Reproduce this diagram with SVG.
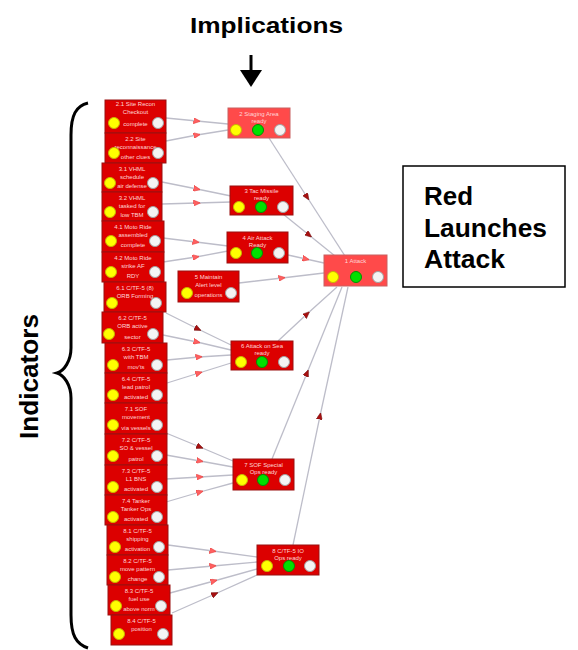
<svg xmlns="http://www.w3.org/2000/svg" width="578" height="650" viewBox="0 0 578 650">
<style>
.bg{fill:#ffffff}
.title{font-family:"Liberation Sans",Arial,sans-serif;font-weight:bold;fill:#000}
.nd{fill:#dc0000;stroke:#9a1010;stroke-width:1}
.ndl{fill:#ff4a4a;stroke:#c86060;stroke-width:1}
.t{font-family:"Liberation Sans",Arial,sans-serif;font-size:6px;fill:#ffd6d6;text-anchor:middle}
.y{fill:#ffff00;stroke:#c8b400;stroke-width:1}
.g{fill:#00e000;stroke:#009000;stroke-width:1}
.w{fill:#f4f4f4;stroke:#a0a0a0;stroke-width:1}
.c{fill:none;stroke:#bdbdc9;stroke-width:1.3}
.cl{marker-mid:url(#mL)}
.cd{marker-mid:url(#mD)}
</style>
<defs>
<marker id="mL" markerUnits="userSpaceOnUse" markerWidth="7" markerHeight="6" refX="3.5" refY="3" orient="auto"><path d="M0,0 L7,3 L0,6 z" fill="#ff6060" stroke="#e03030" stroke-width="0.5"/></marker>
<marker id="mD" markerUnits="userSpaceOnUse" markerWidth="7" markerHeight="6" refX="3.5" refY="3" orient="auto"><path d="M0,0 L7,3 L0,6 z" fill="#a81010" stroke="#701010" stroke-width="0.5"/></marker>
</defs>
<rect class="bg" x="0" y="0" width="578" height="650"/>

<g id="header">
<text class="title" x="190" y="33" font-size="22" textLength="153" lengthAdjust="spacingAndGlyphs">Implications</text>
<line x1="251" y1="55" x2="251" y2="72" stroke="#000" stroke-width="3"/>
<polygon points="240,70 262,70 251,87" fill="#000"/>
</g>

<g id="indicators-label">
<path d="M88,103 C76,106 71,115 71,135 L71,348 C71,361 64,371 57,373 C64,375 71,385 71,398 L71,615 C71,635 76,644 88,648" fill="none" stroke="#000" stroke-width="3"/>
<text class="title" font-size="26" x="0" y="0" textLength="125" lengthAdjust="spacingAndGlyphs" transform="translate(38,439) rotate(-90)">Indicators</text>
</g>

<g id="outcome-box">
<rect x="403" y="166" width="162" height="121" fill="#fff" stroke="#000" stroke-width="1.5"/>
<text class="title" x="424" y="205" font-size="25" textLength="49" lengthAdjust="spacingAndGlyphs">Red</text>
<text class="title" x="424" y="237" font-size="25" textLength="123" lengthAdjust="spacingAndGlyphs">Launches</text>
<text class="title" x="424" y="268" font-size="25" textLength="81" lengthAdjust="spacingAndGlyphs">Attack</text>
</g>

<g id="connectors">
<path class="c cl" d="M166,118 L197,121 L228,124"/>
<path class="c cl" d="M166,141 L197,135 L228,130"/>
<path class="c cl" d="M162,182 L197,189 L231,196"/>
<path class="c cl" d="M162,204 L197,203 L231,202"/>
<path class="c cl" d="M163,238 L196,242 L228,246"/>
<path class="c cl" d="M163,262 L196,257 L228,251"/>
<path class="c cd" d="M166,313 L198,329 L231,345"/>
<path class="c cl" d="M163,335 L197,342 L231,350"/>
<path class="c cl" d="M167,360 L199,357 L231,355"/>
<path class="c cl" d="M167,383 L199,373 L231,363"/>
<path class="c cd" d="M166,433 L200,447 L233,461"/>
<path class="c cl" d="M166,455 L200,461 L233,467"/>
<path class="c cl" d="M166,479 L200,477 L233,475"/>
<path class="c cl" d="M166,502 L200,492 L233,483"/>
<path class="c cl" d="M168,545 L213,551 L257,557"/>
<path class="c cl" d="M168,570 L213,566 L257,562"/>
<path class="c cl" d="M170,593 L214,581 L257,569"/>
<path class="c cd" d="M172,613 L215,594 L257,575"/>
<path class="c cd" d="M269,138 L307,197 L345,256"/>
<path class="c cd" d="M283,214 L309,235 L335,256"/>
<path class="c cl" d="M288,255 L306,259 L324,263"/>
<path class="c cl" d="M239,283 L282,278 L324,273"/>
<path class="c cd" d="M278,341 L307,314 L337,287"/>
<path class="c cd" d="M272,459 L307,373 L342,287"/>
<path class="c cd" d="M293,545 L320,416 L348,287"/>
</g>

<g id="n1"><rect class="nd" x="105" y="100" width="61" height="33"/><text class="t" x="135.5" y="106">2.1 Site Recon</text><text class="t" x="135.5" y="114">Checkout</text><text class="t" x="135.5" y="126">complete</text><circle class="y" cx="114" cy="123" r="5.5"/><circle class="w" cx="158" cy="123" r="5.5"/></g>
<g id="n2"><rect class="nd" x="105" y="133" width="61" height="30"/><text class="t" x="135.5" y="141">2.2 Site</text><text class="t" x="135.5" y="149">reconnaissance</text><text class="t" x="135.5" y="159">other clues</text><circle class="y" cx="114" cy="153" r="5.5"/><circle class="w" cx="158" cy="153" r="5.5"/></g>
<g id="n3"><rect class="nd" x="102" y="163" width="60" height="29"/><text class="t" x="132" y="171">3.1 VHML</text><text class="t" x="132" y="179">schedule</text><text class="t" x="132" y="188">air defense</text><circle class="y" cx="110" cy="183" r="5.5"/><circle class="w" cx="153" cy="183" r="5.5"/></g>
<g id="n4"><rect class="nd" x="102" y="192" width="60" height="29"/><text class="t" x="132" y="200">3.2 VHML</text><text class="t" x="132" y="208">tasked for</text><text class="t" x="132" y="217">low TBM</text><circle class="y" cx="110" cy="212" r="5.5"/><circle class="w" cx="153" cy="212" r="5.5"/></g>
<g id="n5"><rect class="nd" x="102" y="221" width="62" height="31"/><text class="t" x="133" y="229">4.1 Moto Ride</text><text class="t" x="133" y="237">assembled</text><text class="t" x="133" y="247">complete</text><circle class="y" cx="111" cy="241" r="5.5"/><circle class="w" cx="155" cy="241" r="5.5"/></g>
<g id="n6"><rect class="nd" x="102" y="252" width="62" height="30"/><text class="t" x="133" y="260">4.2 Moto Ride</text><text class="t" x="133" y="268">strike AF</text><text class="t" x="133" y="278">RDY</text><circle class="y" cx="111" cy="272" r="5.5"/><circle class="w" cx="155" cy="272" r="5.5"/></g>
<g id="n7"><rect class="nd" x="104" y="282" width="62" height="30"/><text class="t" x="135" y="290">6.1 C/TF-5 (8)</text><text class="t" x="135" y="298">ORB Forming</text><circle class="y" cx="112" cy="303" r="5.5"/><circle class="w" cx="156" cy="303" r="5.5"/></g>
<g id="n8"><rect class="nd" x="102" y="312" width="61" height="31"/><text class="t" x="132.5" y="320">6.2 C/TF-5</text><text class="t" x="132.5" y="328">ORB active</text><text class="t" x="132.5" y="339">sector</text><circle class="y" cx="109" cy="334" r="5.5"/><circle class="w" cx="153" cy="334" r="5.5"/></g>
<g id="n9"><rect class="nd" x="105" y="343" width="62" height="30"/><text class="t" x="136" y="351">6.3 C/TF-5</text><text class="t" x="136" y="359">with TBM</text><text class="t" x="136" y="369">mov'ts</text><circle class="y" cx="113" cy="365" r="5.5"/><circle class="w" cx="157" cy="365" r="5.5"/></g>
<g id="n10"><rect class="nd" x="105" y="373" width="62" height="30"/><text class="t" x="136" y="381">6.4 C/TF-5</text><text class="t" x="136" y="389">lead patrol</text><text class="t" x="136" y="399">activated</text><circle class="y" cx="113" cy="395" r="5.5"/><circle class="w" cx="157" cy="395" r="5.5"/></g>
<g id="n11"><rect class="nd" x="105" y="403" width="62" height="31"/><text class="t" x="136" y="411">7.1 SOF</text><text class="t" x="136" y="419">movement</text><text class="t" x="136" y="430">via vessels</text><circle class="y" cx="113" cy="425" r="5.5"/><circle class="w" cx="157" cy="425" r="5.5"/></g>
<g id="n12"><rect class="nd" x="105" y="434" width="62" height="31"/><text class="t" x="136" y="442">7.2 C/TF-5</text><text class="t" x="136" y="450">SO &amp; vessel</text><text class="t" x="136" y="461">patrol</text><circle class="y" cx="113" cy="456" r="5.5"/><circle class="w" cx="157" cy="456" r="5.5"/></g>
<g id="n13"><rect class="nd" x="105" y="465" width="62" height="30"/><text class="t" x="136" y="473">7.3 C/TF-5</text><text class="t" x="136" y="481">L1 BNS</text><text class="t" x="136" y="491">activated</text><circle class="y" cx="113" cy="487" r="5.5"/><circle class="w" cx="157" cy="487" r="5.5"/></g>
<g id="n14"><rect class="nd" x="105" y="495" width="62" height="30"/><text class="t" x="136" y="503">7.4 Tanker</text><text class="t" x="136" y="511">Tanker Ops</text><text class="t" x="136" y="521">activated</text><circle class="y" cx="113" cy="517" r="5.5"/><circle class="w" cx="157" cy="517" r="5.5"/></g>
<g id="n15"><rect class="nd" x="107" y="525" width="61" height="30"/><text class="t" x="137.5" y="533">8.1 C/TF-5</text><text class="t" x="137.5" y="541">shipping</text><text class="t" x="137.5" y="551">activation</text><circle class="y" cx="115" cy="547" r="5.5"/><circle class="w" cx="159" cy="547" r="5.5"/></g>
<g id="n16"><rect class="nd" x="107" y="555" width="61" height="30"/><text class="t" x="137.5" y="563">8.2 C/TF-5</text><text class="t" x="137.5" y="571">move pattern</text><text class="t" x="137.5" y="581">change</text><circle class="y" cx="115" cy="577" r="5.5"/><circle class="w" cx="159" cy="577" r="5.5"/></g>
<g id="n17"><rect class="nd" x="108" y="585" width="62" height="30"/><text class="t" x="139" y="593">8.3 C/TF-5</text><text class="t" x="139" y="601">fuel use</text><text class="t" x="139" y="611">above norm</text><circle class="y" cx="116" cy="606" r="5.5"/><circle class="w" cx="161" cy="606" r="5.5"/></g>
<g id="n18"><rect class="nd" x="111" y="615" width="61" height="30"/><text class="t" x="141.5" y="623">8.4 C/TF-5</text><text class="t" x="141.5" y="631">position</text><circle class="y" cx="119" cy="634" r="5.5"/><circle class="w" cx="163" cy="634" r="5.5"/></g>

<g id="nA"><rect class="ndl" x="228" y="108" width="62" height="30"/><text class="t" x="259" y="116">2 Staging Area</text><text class="t" x="259" y="123">ready</text><circle class="y" cx="236" cy="130" r="5.5"/><circle class="g" cx="258" cy="130" r="5.5"/><circle class="w" cx="280" cy="130" r="5.5"/></g>
<g id="nB"><rect class="nd" x="230" y="186" width="63" height="29"/><text class="t" x="261.5" y="193">3 Tac Missile</text><text class="t" x="261.5" y="200">ready</text><circle class="y" cx="239" cy="207" r="5.5"/><circle class="g" cx="261" cy="207" r="5.5"/><circle class="w" cx="283" cy="207" r="5.5"/></g>
<g id="nC"><rect class="nd" x="227" y="232" width="61" height="31"/><text class="t" x="257.5" y="240">4 Air Attack</text><text class="t" x="257.5" y="247">Ready</text><circle class="y" cx="236" cy="253" r="5.5"/><circle class="g" cx="257" cy="253" r="5.5"/><circle class="w" cx="279" cy="253" r="5.5"/></g>
<g id="nM5"><rect class="nd" x="178" y="271" width="61" height="31"/><text class="t" x="208.5" y="279">5 Maintain</text><text class="t" x="208.5" y="287">Alert level</text><text class="t" x="208.5" y="297">operations</text><circle class="y" cx="187" cy="293" r="5.5"/><circle class="w" cx="231" cy="293" r="5.5"/></g>
<g id="nD"><rect class="nd" x="231" y="341" width="62" height="29"/><text class="t" x="262" y="348">6 Attack on Sea</text><text class="t" x="262" y="355">ready</text><circle class="y" cx="241" cy="362" r="5.5"/><circle class="g" cx="262" cy="362" r="5.5"/><circle class="w" cx="284" cy="362" r="5.5"/></g>
<g id="nE"><rect class="nd" x="233" y="459" width="61" height="31"/><text class="t" x="263.5" y="467">7 SOF Special</text><text class="t" x="263.5" y="474">Ops ready</text><circle class="y" cx="242" cy="480" r="5.5"/><circle class="g" cx="263" cy="480" r="5.5"/><circle class="w" cx="285" cy="480" r="5.5"/></g>
<g id="nF"><rect class="nd" x="257" y="545" width="62" height="30"/><text class="t" x="288" y="553">8 C/TF-5 IO</text><text class="t" x="288" y="560">Ops ready</text><circle class="y" cx="267" cy="566" r="5.5"/><circle class="g" cx="289" cy="566" r="5.5"/><circle class="w" cx="310" cy="566" r="5.5"/></g>
<g id="nG"><rect class="ndl" x="324" y="255" width="63" height="31"/><text class="t" x="355.5" y="263">1 Attack</text><circle class="y" cx="333" cy="277" r="5.5"/><circle class="g" cx="356" cy="277" r="5.5"/><circle class="w" cx="378" cy="277" r="5.5"/></g>
</svg>
